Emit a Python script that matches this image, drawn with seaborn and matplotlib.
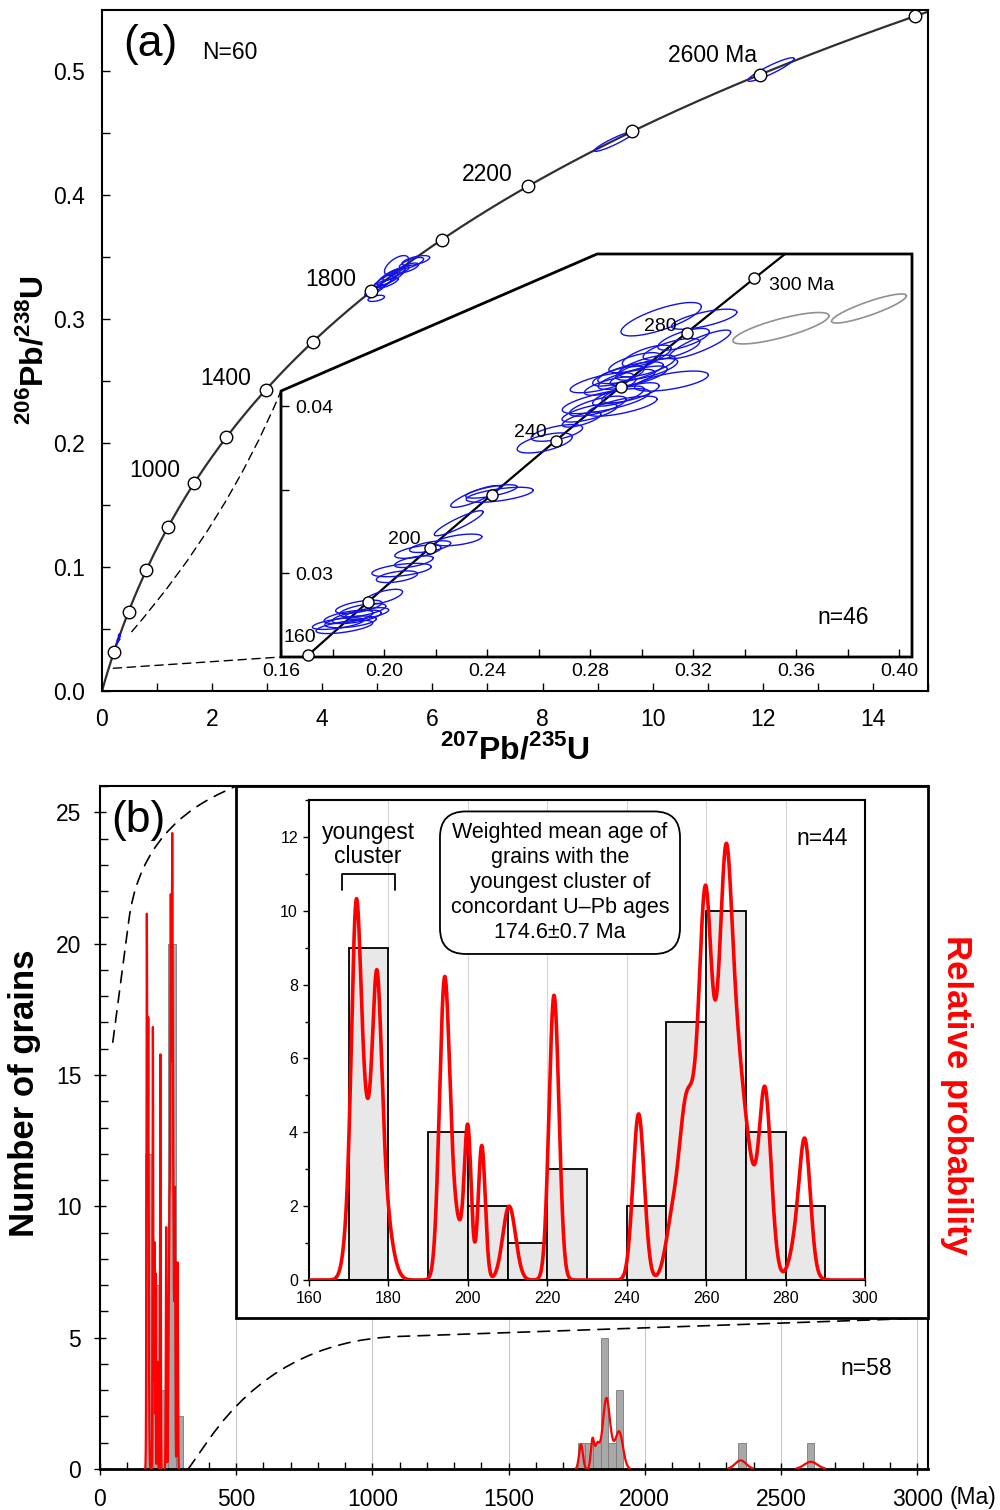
import numpy as np
import pandas as pd
import seaborn as sns
import matplotlib.pyplot as plt
from matplotlib.patches import Polygon, Rectangle, FancyArrowPatch, ConnectionPatch
from matplotlib.ticker import MultipleLocator, FixedLocator, FormatStrFormatter

sns.set_theme(style='ticks')
plt.rcParams['font.family'] = ['Liberation Sans', 'DejaVu Sans']
plt.rcParams['mathtext.fontset'] = 'custom'
plt.rcParams['mathtext.rm'] = 'Liberation Sans'
plt.rcParams['mathtext.bf'] = 'Liberation Sans:bold'
plt.rcParams['axes.edgecolor'] = 'black'
plt.rcParams['axes.linewidth'] = 1.5
plt.rcParams['xtick.color'] = 'black'
plt.rcParams['ytick.color'] = 'black'
plt.rcParams['text.color'] = 'black'
plt.rcParams['axes.labelcolor'] = 'black'

# U decay constants (1/yr)
L238 = 1.55125e-10
L235 = 9.8485e-10

# ---- concordia age marks (Ma) ----
main_marks = [200, 400, 600, 800, 1000, 1200, 1400, 1600, 1800, 2000, 2200, 2400, 2600, 2800]
inset_marks = [160, 180, 200, 220, 240, 260, 280, 300]

# ---- old grains, ellipses in panel (a): 207/235, 206/238, 1s errors, rho ----
old_x = [4.98, 4.95, 5.05, 5.15, 5.20, 5.25, 5.30, 5.35, 5.40, 5.55, 5.62, 5.70, 9.30, 12.15]
old_y = [0.3165, 0.3230, 0.3270, 0.3310, 0.3290, 0.3340, 0.3360, 0.3430, 0.3380, 0.3410,
         0.3450, 0.3470, 0.4430, 0.5010]
old_sx = [0.15, 0.18, 0.20, 0.22, 0.18, 0.25, 0.20, 0.22, 0.18, 0.20, 0.22, 0.25, 0.36, 0.42]
old_sy = [0.0025, 0.0045, 0.005, 0.006, 0.004, 0.007, 0.005, 0.008, 0.004, 0.004, 0.0045,
          0.004, 0.008, 0.0095]
old_rho = [0.5, 0.85, 0.85, 0.85, 0.8, 0.8, 0.85, 0.6, 0.85, 0.7, 0.7, 0.6, 0.93, 0.92]

# ---- young concordant grains (inset of a) ----
yg_x = [0.1822, 0.1846, 0.1862, 0.1870, 0.1894, 0.1902, 0.1917, 0.1933, 0.1997,
        0.2068, 0.2116, 0.2132, 0.2179, 0.2290, 0.2290, 0.2050,
        0.2354, 0.2449, 0.2417,
        0.2624, 0.2671,
        0.3076, 0.3243, 0.3227, 0.3163, 0.3020, 0.3020, 0.2973, 0.2957, 0.2941, 0.2910,
        0.2989, 0.3116, 0.2846, 0.2878, 0.2957, 0.2910, 0.2862, 0.2830, 0.2798, 0.2925,
        0.2767, 0.3020, 0.3116]
yg_y = [0.0270, 0.0268, 0.0274, 0.0271, 0.0274, 0.0280, 0.0278, 0.0276, 0.0286,
        0.0302, 0.0307, 0.0313, 0.0316, 0.0320, 0.0330, 0.0298,
        0.0346, 0.0347, 0.0349,
        0.0378, 0.0384,
        0.0452, 0.0452, 0.0437, 0.0440, 0.0430, 0.0424, 0.0426, 0.0420, 0.0416, 0.0418,
        0.0418, 0.0415, 0.0414, 0.0412, 0.0408, 0.0406, 0.0403, 0.0400, 0.0396, 0.0400,
        0.0392, 0.0422, 0.0434]
yg_sx = [0.0100, 0.0110, 0.0095, 0.0100, 0.0095, 0.0090, 0.0090, 0.0085, 0.0075,
         0.0115, 0.0075, 0.0090, 0.0080, 0.0090, 0.0095, 0.0080,
         0.0095, 0.0130, 0.0100,
         0.0107, 0.0100,
         0.0156, 0.0127, 0.0119, 0.0100, 0.0095, 0.0110, 0.0100, 0.0127, 0.0110, 0.0100,
         0.0111, 0.0143, 0.0123, 0.0100, 0.0111, 0.0100, 0.0170, 0.0110, 0.0107, 0.0135,
         0.0075, 0.0120, 0.0110]
yg_sy = [0.00035, 0.00040, 0.00040, 0.00035, 0.00040, 0.00040, 0.00040, 0.00035, 0.00045,
         0.00040, 0.00035, 0.00040, 0.00035, 0.00035, 0.00075, 0.00035,
         0.00065, 0.00045, 0.00040,
         0.00060, 0.00050,
         0.00100, 0.00060, 0.00085, 0.00065, 0.00065, 0.00065, 0.00060, 0.00065, 0.00060,
         0.00060, 0.00060, 0.00060, 0.00060, 0.00055, 0.00060, 0.00060, 0.00075, 0.00060,
         0.00055, 0.00060, 0.00045, 0.00065, 0.00065]
yg_rho = [0.6, 0.6, 0.6, 0.5, 0.6, 0.6, 0.6, 0.6, 0.65,
          0.5, 0.6, 0.6, 0.6, 0.55, 0.9, 0.5,
          0.85, 0.6, 0.7,
          0.6, 0.6,
          0.75, 0.7, 0.85, 0.7, 0.7, 0.7, 0.7, 0.7, 0.7, 0.7,
          0.7, 0.6, 0.7, 0.7, 0.7, 0.7, 0.7, 0.7, 0.7, 0.7,
          0.7, 0.7, 0.7]

# discordant grains (grey)
dc_x = [0.3541, 0.3883]
dc_y = [0.04466, 0.04584]
dc_sx = [0.01865, 0.01452]
dc_sy = [0.00094, 0.00087]
dc_rho = [0.79, 0.87]

# ---- ages (Ma) and 1s errors for probability curves ----
young_ages = [170.8, 171.6, 172.2, 172.8, 174.6, 175.5, 177.0, 177.5, 178.8,
              193.6, 194.1, 194.6, 196.8, 200.0, 203.5, 210.4,
              221.3, 221.7, 222.1, 242.75, 243.25,
              251.8, 254.3, 255.9, 257.3, 258.9, 259.5, 259.8, 260.3, 261.8,
              262.8, 263.8, 264.8, 265.0, 265.3, 266.3, 267.3, 268.6, 270.0,
              272.5, 274.6, 275.5, 283.8, 285.0]
young_sig = [1.5, 1.0, 1.1, 1.5, 1.8, 2.5, 1.0, 1.3, 2.0,
             1.2, 1.2, 1.2, 2.0, 0.85, 0.88, 1.6,
             1.2, 1.2, 1.2, 1.4, 1.4,
             1.8, 1.4, 1.5, 1.8, 1.5, 1.6, 1.3, 1.4, 1.8,
             2.0, 1.6, 1.3, 1.7, 1.3, 1.6, 1.5, 1.7, 1.8,
             2.2, 1.3, 1.5, 2.0, 1.3]
old_ages = [1766, 1808, 1825, 1845, 1852, 1858, 1863, 1865, 1876, 1900, 1906, 1912, 2352, 2610]
old_sig = [7, 6, 8, 12, 11, 10, 10, 12, 12, 13, 13, 13, 20, 24]

# ---- histograms ----
main_bin_left = [166, 194, 222, 250, 278, 1754, 1782, 1810, 1838, 1866, 1894, 2342, 2594]
main_counts = [12, 7, 3, 20, 2, 1, 1, 1, 5, 1, 3, 1, 1]
inset_bin_left = [170, 190, 200, 210, 220, 240, 250, 260, 270, 280]
inset_counts = [9, 4, 2, 1, 3, 2, 7, 10, 4, 2]

BLUE = '#1212e8'


def conc(t_ma):
    t = np.asarray(t_ma, dtype=float) * 1e6
    return np.exp(L235 * t) - 1, np.exp(L238 * t) - 1


def ellipse(x, y, sx, sy, rho, n=160):
    a = np.linspace(0, 2 * np.pi, n)
    return x + sx * np.cos(a), y + sy * (rho * np.cos(a) + np.sqrt(1 - rho ** 2) * np.sin(a))


def pdp(grid, ages, sig):
    g = grid[:, None]
    a = np.asarray(ages)[None, :]
    s = np.asarray(sig)[None, :]
    return (np.exp(-0.5 * ((g - a) / s) ** 2) / s).sum(axis=1)


fig = plt.figure(figsize=(10, 15.1), dpi=100)

# ================= panel (a) =================
ax_a = fig.add_axes([0.102, 0.5424, 0.826, 0.451])
tc = np.linspace(0, 2830, 800)
cx, cy = conc(tc)
sns.lineplot(x=cx, y=cy, sort=False, estimator=None, color='#303030', linewidth=1.6, ax=ax_a, zorder=2)

for x, y, sx, sy, r in zip(old_x, old_y, old_sx, old_sy, old_rho):
    ex, ey = ellipse(x, y, sx, sy, r)
    ax_a.plot(ex, ey, color=BLUE, lw=1.0, zorder=3)
for x, y, sx, sy, r in zip(yg_x, yg_y, yg_sx, yg_sy, yg_rho):
    ex, ey = ellipse(x, y, sx, sy, r)
    ax_a.plot(ex, ey, color=BLUE, lw=0.8, zorder=3)

mx, my = conc(main_marks)
ax_a.plot(mx, my, 'o', ms=9, mfc='white', mec='black', mew=1, zorder=5, clip_on=False)

ax_a.text(0.96, 0.1774, '1000', fontsize=16.5, ha='center', va='center')
ax_a.text(2.25, 0.2516, '1400', fontsize=16.5, ha='center', va='center')
ax_a.text(4.16, 0.3315, '1800', fontsize=16.5, ha='center', va='center')
ax_a.text(6.99, 0.4160, '2200', fontsize=16.5, ha='center', va='center')
ax_a.text(11.08, 0.5120, '2600 Ma', fontsize=16.5, ha='center', va='center')
ax_a.text(0.058, 0.949, '(a)', transform=ax_a.transAxes, fontsize=32, ha='center', va='center')
ax_a.text(0.155, 0.938, 'N=60', transform=ax_a.transAxes, fontsize=16.5, ha='center', va='center')

ax_a.set_xlim(0, 15)
ax_a.set_ylim(0, 0.549)
ax_a.xaxis.set_major_locator(MultipleLocator(2))
ax_a.xaxis.set_minor_locator(MultipleLocator(1))
ax_a.yaxis.set_major_locator(MultipleLocator(0.1))
ax_a.yaxis.set_minor_locator(MultipleLocator(0.05))
ax_a.yaxis.set_major_formatter(FormatStrFormatter('%.1f'))
ax_a.tick_params(which='both', direction='in', length=6, width=1, labelsize=16.5, pad=12)
ax_a.set_xlabel(r'$^{\mathbf{207}}$Pb/$^{\mathbf{235}}$U', fontsize=23, fontweight='bold', labelpad=2)
ax_a.set_ylabel(r'$^{\mathbf{206}}$Pb/$^{\mathbf{238}}$U', fontsize=23, fontweight='bold', labelpad=3)

# ---- inset of (a) ----
ax_i = fig.add_axes([0.281, 0.5649, 0.631, 0.2669])
ax_i.patch.set_visible(False)
for sp in ax_i.spines.values():
    sp.set_visible(False)
ax_i.add_patch(Polygon([(0, 0), (1, 0), (1, 1), (0.501, 1), (0, 0.66)], closed=True,
                       transform=ax_i.transAxes, fc='white', ec='black', lw=2, zorder=0, clip_on=False))
ti = np.linspace(150, 320, 400)
ix, iy = conc(ti)
sns.lineplot(x=ix, y=iy, sort=False, estimator=None, color='black', linewidth=1.6, ax=ax_i, zorder=2)
for x, y, sx, sy, r in zip(yg_x, yg_y, yg_sx, yg_sy, yg_rho):
    ex, ey = ellipse(x, y, sx, sy, r)
    ax_i.plot(ex, ey, color=BLUE, lw=1.0, zorder=3)
for x, y, sx, sy, r in zip(dc_x, dc_y, dc_sx, dc_sy, dc_rho):
    ex, ey = ellipse(x, y, sx, sy, r)
    ax_i.plot(ex, ey, color='#909090', lw=1.2, zorder=3)
imx, imy = conc(inset_marks)
ax_i.plot(imx, imy, 'o', ms=8, mfc='white', mec='black', mew=1, zorder=5, clip_on=False)

ax_i.text(0.1674, 0.02617, '160', fontsize=14, ha='center', va='center')
ax_i.text(0.2078, 0.03204, '200', fontsize=14, ha='center', va='center')
ax_i.text(0.2567, 0.03844, '240', fontsize=14, ha='center', va='center')
ax_i.text(0.3072, 0.04479, '280', fontsize=14, ha='center', va='center')
ax_i.text(0.3623, 0.04719, '300 Ma', fontsize=14, ha='center', va='center')
ax_i.text(0.3783, 0.02737, 'n=46', fontsize=16.5, ha='center', va='center')

ax_i.set_xlim(0.16, 0.405)
ax_i.set_ylim(0.025, 0.0491)
ax_i.set_xticks([0.16, 0.20, 0.24, 0.28, 0.32, 0.36, 0.40])
ax_i.set_xticks([0.18, 0.22, 0.26, 0.30, 0.34, 0.38], minor=True)
ax_i.set_yticks([0.03, 0.04])
ax_i.set_yticks([0.035], minor=True)
ax_i.xaxis.set_major_formatter(FormatStrFormatter('%.2f'))
ax_i.yaxis.set_major_formatter(FormatStrFormatter('%.2f'))
ax_i.tick_params(which='both', direction='in', length=6, width=1, labelsize=14)
ax_i.tick_params(axis='x', pad=4)
ax_i.tick_params(axis='y', pad=-10)
for lbl in ax_i.get_yticklabels():
    lbl.set_horizontalalignment('left')

con1 = ConnectionPatch(xyA=(0.205, 0.0183), coordsA=ax_a.transData, xyB=(0, 0), coordsB=ax_i.transAxes,
                       linestyle=(0, (6, 4)), lw=1, color='black')
con2 = ConnectionPatch(xyA=(0.54, 0.0478), coordsA=ax_a.transData, xyB=(0, 0.66), coordsB=ax_i.transAxes,
                       connectionstyle='arc3,rad=0.08', linestyle=(0, (6, 4)), lw=1, color='black')
fig.add_artist(con1)
fig.add_artist(con2)

# ================= panel (b) =================
ax_b = fig.add_axes([0.100, 0.02715, 0.828, 0.4523])
ax_b.grid(axis='x', which='major', color='#c8c8c8', lw=0.8)
ax_b.bar(main_bin_left, main_counts, width=28, align='edge', color='#a8a8a8', edgecolor='#7a7a7a', lw=0.6, zorder=2)
ax_b.set_xlim(0, 3040)
ax_b.set_ylim(0, 26)
ax_b.xaxis.set_major_locator(FixedLocator(list(range(0, 3001, 500))))
ax_b.xaxis.set_minor_locator(FixedLocator(list(range(0, 3001, 100))))
ax_b.yaxis.set_major_locator(MultipleLocator(5))
ax_b.yaxis.set_minor_locator(MultipleLocator(1))
ax_b.tick_params(axis='x', which='major', direction='inout', length=8, width=1, labelsize=16.5, pad=10)
ax_b.tick_params(axis='x', which='minor', direction='in', length=5, width=1)
ax_b.tick_params(axis='y', which='major', direction='inout', length=9, width=1, labelsize=16.5, pad=9)
ax_b.tick_params(axis='y', which='minor', direction='in', length=6, width=1)
ax_b.spines['bottom'].set_linewidth(2)
ax_b.set_ylabel('Number of grains', fontsize=25, fontweight='bold', va='center')
ax_b.yaxis.set_label_coords(-0.0906, 0.55)
ax_b.text(0.046, 0.95, '(b)', transform=ax_b.transAxes, fontsize=32, ha='center', va='center')
ax_b.text(2813, 3.84, 'n=58', fontsize=16.5, ha='center', va='center')
ax_b.text(1.054, -0.041, '(Ma)', transform=ax_b.transAxes, fontsize=16.5, ha='center', va='center')

# inset frame inside panel b
ax_b.add_patch(Rectangle((500, 5.75), 2540, 20.25, fc='white', ec='black', lw=2, zorder=5, clip_on=False))
ax_b.add_patch(FancyArrowPatch((47, 16.25), (500, 26), connectionstyle='angle,angleA=82.5,angleB=24.8,rad=90',
                               arrowstyle='-', linestyle=(0, (7, 5)), lw=1.2, color='black',
                               shrinkA=0, shrinkB=0, zorder=4, clip_on=False))
ax_b.add_patch(FancyArrowPatch((324, 0), (3040, 5.75), connectionstyle='angle,angleA=55,angleB=2,rad=120',
                               arrowstyle='-', linestyle=(0, (7, 5)), lw=1.2, color='black',
                               shrinkA=0, shrinkB=0, zorder=4, clip_on=False))

all_ages = young_ages + old_ages
all_sig = young_sig + old_sig
grid_main = np.arange(0, 3040, 0.1)
dens_main = pdp(grid_main, all_ages, all_sig)
# leave gaps where the probability is negligible so the baseline stays black
dens_main = np.where(dens_main > 0.004, dens_main, np.nan)
ax_b2 = ax_b.twinx()
ax_b2.plot(grid_main, dens_main, color='red', lw=1.6)
ax_b2.set_ylim(0, 26 / 6.55)
ax_b2.set_yticks([])
for sp in ax_b2.spines.values():
    sp.set_visible(False)
ax_b2.set_ylabel('Relative probability', color='red', fontsize=25, fontweight='bold', rotation=270, va='center')
ax_b2.yaxis.set_label_coords(1.035, 0.5476)

# ---- inset of (b) ----
ax_ib = fig.add_axes([0.309, 0.1523, 0.556, 0.3179])
ax_ib.set_axisbelow(True)
ax_ib.grid(axis='x', which='major', color='#d4d4d4', lw=0.8)
ax_ib.bar(inset_bin_left, inset_counts, width=10, align='edge', color='#e8e8e8', edgecolor='black', lw=1.3, zorder=2)
ax_ib.set_xlim(160, 300)
ax_ib.set_ylim(0, 13)
ax_ib.xaxis.set_major_locator(MultipleLocator(20))
ax_ib.yaxis.set_major_locator(MultipleLocator(2))
ax_ib.yaxis.set_minor_locator(MultipleLocator(1))
ax_ib.tick_params(which='both', direction='out', length=4, width=1, labelsize=11.5, pad=4)
ax_ib.tick_params(which='minor', length=3)
for sp in ax_ib.spines.values():
    sp.set_linewidth(1.5)

ax_ib.text(289.2, 11.95, 'n=44', fontsize=16.5, ha='center', va='center')
ax_ib.text(174.9, 11.8, 'youngest\ncluster', fontsize=16.5, ha='center', va='center', linespacing=1.05)
ax_ib.plot([168.3, 168.3, 181.6, 181.6], [10.55, 11.0, 11.0, 10.55], color='black', lw=1.3)
ax_ib.text(223.2, 10.76, 'Weighted mean age of\ngrains with the\nyoungest cluster of\nconcordant U\u2013Pb ages\n174.6\u00b10.7 Ma',
           fontsize=15.5, ha='center', va='center', linespacing=1.25, zorder=6,
           bbox=dict(boxstyle='round,pad=0.5,rounding_size=1.2', fc='white', ec='black', lw=1.3))

grid_in = np.arange(150, 310, 0.05)
dens_in = pdp(grid_in, young_ages, young_sig)
ax_ib2 = ax_ib.twinx()
sns.lineplot(x=grid_in, y=dens_in, sort=False, estimator=None, color='red', linewidth=2.6, ax=ax_ib2)
ax_ib2.set_ylim(0, 13 / 3.2)
ax_ib2.set_xlim(160, 300)
ax_ib2.set_yticks([])
for sp in ax_ib2.spines.values():
    sp.set_visible(False)

fig.savefig('out.png', dpi=100)
